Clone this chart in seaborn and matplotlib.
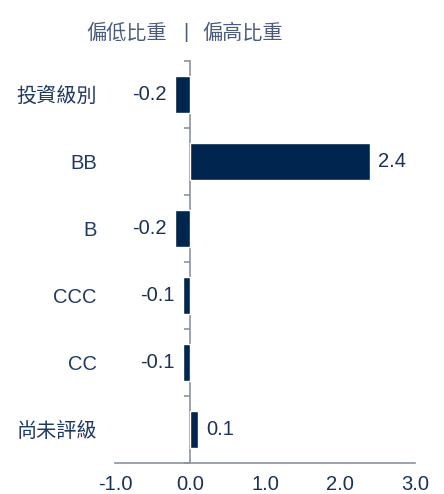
import matplotlib
matplotlib.use("Agg")
import matplotlib.pyplot as plt
import seaborn as sns
import pandas as pd

# data
categories = ["投資級別", "BB", "B", "CCC", "CC", "尚未評級"]
values = [-0.2, 2.4, -0.2, -0.1, -0.1, 0.1]
x_ticks = [-1.0, 0.0, 1.0, 2.0, 3.0]

df = pd.DataFrame({"rating": categories, "weight": values})

sns.set_style("white")
plt.rcParams["font.family"] = ["Liberation Sans", "Noto Sans CJK TC", "DejaVu Sans"]

bar_color = "#00264f"
label_color = "#1b3155"
cat_color = "#213a62"
axis_color = "#8c949e"
fs = 14.5

fig = plt.figure(figsize=(4.44, 4.94), dpi=100)
ax = fig.add_axes([0.259, 0.0628, 0.676, 0.8137])

sns.barplot(data=df, x="weight", y="rating", orient="h", color=bar_color,
            width=0.56, saturation=1, ax=ax)

ax.set_xlim(-1.0, 3.0)
ax.set_ylim(5.5, -0.5)
ax.set_xticks(x_ticks)
ax.set_xticklabels([f"{t:.1f}" for t in x_ticks], fontsize=fs, color=label_color)
ax.tick_params(axis="x", direction="in", length=5, width=1.2, color=axis_color, pad=9)
ax.tick_params(axis="y", length=0, pad=13, labelsize=fs, labelcolor=cat_color)
ax.set_xlabel("")
ax.set_ylabel("")

for side in ["top", "right", "left"]:
    ax.spines[side].set_visible(False)
ax.spines["bottom"].set_color(axis_color)
ax.spines["bottom"].set_linewidth(1.2)

# vertical zero line with ticks at the category boundaries
sec = ax.secondary_yaxis(0.25)
sec.set_yticks([i - 0.5 for i in range(len(categories) + 1)])
sec.set_yticklabels([])
sec.tick_params(length=4, width=1.2, color=axis_color)
sec.spines["left"].set_color(axis_color)
sec.spines["left"].set_linewidth(1.2)

# value labels
for container in ax.containers:
    ax.bar_label(container, labels=[f"{v:.1f}" for v in values], padding=6,
                 fontsize=fs, color=label_color)

# header
hy = 1 - 33 / 494
fig.text(167 / 444, hy, "偏低比重", ha="right", va="center", fontsize=fs, color="#4a5b7c")
fig.text(186 / 444, hy, "|", ha="center", va="center", fontsize=fs, color="#4a5b7c")
fig.text(202 / 444, hy, "偏高比重", ha="left", va="center", fontsize=fs, color="#4a5b7c")

fig.savefig("out.png", dpi=100)
